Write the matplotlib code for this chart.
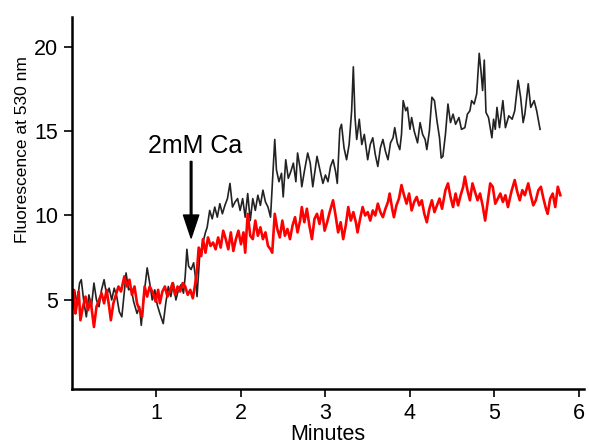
import matplotlib
matplotlib.use("Agg")
import matplotlib.pyplot as plt

# black trace (minutes, fluorescence)
black_t = [0.00, 0.03, 0.06, 0.09, 0.11, 0.14, 0.17, 0.20, 0.23, 0.26, 0.29, 0.32, 0.35, 0.38,
           0.41, 0.44, 0.47, 0.50, 0.53, 0.56, 0.59, 0.62, 0.64, 0.67, 0.70, 0.73, 0.77, 0.80,
           0.82, 0.85, 0.89, 0.92, 0.95, 0.98, 1.01, 1.04, 1.08, 1.11, 1.14, 1.17, 1.20, 1.23,
           1.26, 1.29, 1.32, 1.34, 1.36, 1.38, 1.41, 1.44, 1.46, 1.48, 1.51, 1.55, 1.58, 1.60,
           1.63, 1.66, 1.69, 1.72, 1.75, 1.78, 1.81, 1.84, 1.87, 1.90, 1.93, 1.96, 1.99, 2.02,
           2.05, 2.08, 2.11, 2.14, 2.17, 2.20, 2.23, 2.26, 2.29, 2.32, 2.35, 2.37, 2.40, 2.42,
           2.45, 2.48, 2.50, 2.53, 2.56, 2.59, 2.62, 2.65, 2.67, 2.70, 2.72, 2.75, 2.79, 2.82,
           2.85, 2.88, 2.90, 2.93, 2.97, 3.00, 3.03, 3.06, 3.09, 3.12, 3.14, 3.17, 3.19, 3.22,
           3.25, 3.28, 3.31, 3.33, 3.35, 3.37, 3.40, 3.43, 3.46, 3.50, 3.53, 3.56, 3.59, 3.62,
           3.65, 3.68, 3.71, 3.74, 3.77, 3.80, 3.82, 3.85, 3.88, 3.90, 3.92, 3.95, 3.97, 4.00,
           4.02, 4.05, 4.09, 4.12, 4.15, 4.18, 4.20, 4.23, 4.26, 4.29, 4.32, 4.35, 4.37, 4.39,
           4.42, 4.45, 4.48, 4.51, 4.54, 4.58, 4.61, 4.65, 4.68, 4.71, 4.73, 4.76, 4.79, 4.82,
           4.84, 4.86, 4.88, 4.90, 4.93, 4.97, 4.99, 5.01, 5.03, 5.06, 5.10, 5.13, 5.17, 5.21,
           5.24, 5.28, 5.31, 5.34, 5.36, 5.40, 5.43, 5.47, 5.50, 5.54]
black_v = [4.3, 5.6, 4.8, 6.0, 6.2, 4.9, 4.0, 5.3, 4.6, 6.0, 5.0, 4.6, 5.6, 6.2,
           5.3, 5.7, 5.0, 5.7, 5.2, 4.3, 4.0, 5.5, 6.6, 5.6, 5.7, 4.9, 4.2, 4.6,
           3.5, 5.2, 6.9, 6.0, 5.0, 5.6, 4.7, 4.2, 3.6, 4.8, 5.8, 5.2, 6.0, 5.0,
           5.6, 5.9, 5.4, 6.4, 8.0, 7.0, 6.8, 7.2, 6.4, 5.2, 7.5, 8.4, 9.0, 9.3,
           10.3, 9.8, 10.5, 9.9, 10.7, 10.1, 10.6, 11.0, 11.9, 10.5, 10.8, 11.0, 10.3, 11.0,
           9.9, 11.3, 9.7, 11.0, 10.3, 11.2, 10.6, 11.5, 10.8, 10.5, 9.9, 11.7, 14.5, 12.7,
           12.0, 12.5, 11.1, 13.3, 12.2, 12.6, 13.1, 12.0, 13.7, 12.8, 11.7, 12.6, 13.7, 13.1,
           11.7, 12.8, 13.5, 12.8, 11.9, 12.4, 12.0, 12.9, 13.3, 12.6, 11.9, 15.1, 15.4, 14.0,
           13.3, 14.2, 16.2, 18.8, 15.8, 14.5, 15.7, 14.2, 14.8, 13.3, 14.2, 14.6, 13.6, 12.9,
           14.0, 14.5, 13.8, 13.3, 14.3, 14.6, 15.2, 14.3, 13.9, 14.8, 16.8, 16.2, 16.4, 15.1,
           15.8, 15.0, 14.3, 15.5, 14.8, 14.5, 13.9, 15.0, 17.0, 16.8, 15.6, 14.6, 13.4, 13.5,
           14.8, 16.6, 15.5, 16.0, 15.4, 15.8, 15.1, 15.2, 16.0, 16.2, 16.8, 16.6, 17.2, 19.6,
           18.6, 17.4, 19.2, 16.1, 15.8, 14.6, 15.7, 15.1, 16.4, 15.2, 16.8, 15.2, 15.9, 15.7,
           16.2, 18.0, 17.0, 15.5, 16.0, 17.8, 16.4, 16.8, 16.2, 15.1]

# red trace (minutes, fluorescence)
red_t = [0.00, 0.02, 0.04, 0.06, 0.08, 0.10, 0.13, 0.16, 0.19, 0.22, 0.26, 0.29, 0.32, 0.35,
         0.38, 0.41, 0.44, 0.46, 0.49, 0.52, 0.55, 0.58, 0.62, 0.65, 0.68, 0.71, 0.74, 0.77,
         0.80, 0.83, 0.86, 0.89, 0.92, 0.96, 0.99, 1.02, 1.04, 1.07, 1.10, 1.13, 1.16, 1.19,
         1.22, 1.25, 1.28, 1.31, 1.34, 1.37, 1.40, 1.43, 1.46, 1.48, 1.50, 1.53, 1.55, 1.58,
         1.61, 1.64, 1.67, 1.70, 1.73, 1.76, 1.79, 1.82, 1.85, 1.88, 1.91, 1.94, 1.97, 2.00,
         2.03, 2.05, 2.08, 2.11, 2.14, 2.17, 2.20, 2.23, 2.26, 2.29, 2.32, 2.35, 2.37, 2.40,
         2.43, 2.46, 2.49, 2.52, 2.55, 2.58, 2.61, 2.64, 2.67, 2.70, 2.72, 2.75, 2.78, 2.81,
         2.84, 2.87, 2.90, 2.93, 2.96, 2.99, 3.02, 3.05, 3.09, 3.12, 3.15, 3.18, 3.21, 3.24,
         3.27, 3.30, 3.33, 3.36, 3.38, 3.41, 3.44, 3.47, 3.50, 3.53, 3.56, 3.59, 3.62, 3.65,
         3.68, 3.71, 3.74, 3.76, 3.79, 3.81, 3.84, 3.87, 3.90, 3.93, 3.96, 3.99, 4.02, 4.05,
         4.08, 4.11, 4.14, 4.17, 4.20, 4.23, 4.26, 4.29, 4.32, 4.35, 4.38, 4.42, 4.45, 4.48,
         4.51, 4.54, 4.57, 4.60, 4.63, 4.65, 4.68, 4.71, 4.74, 4.77, 4.80, 4.83, 4.86, 4.89,
         4.92, 4.95, 4.98, 5.01, 5.04, 5.07, 5.10, 5.13, 5.16, 5.20, 5.24, 5.27, 5.30, 5.33,
         5.36, 5.40, 5.43, 5.46, 5.49, 5.52, 5.55, 5.58, 5.61, 5.63, 5.66, 5.69, 5.72, 5.75,
         5.78]
red_v = [4.5, 5.6, 4.2, 4.8, 5.5, 3.8, 4.6, 5.2, 4.4, 5.0, 3.4, 4.6, 5.0, 5.4,
         4.8, 5.6, 4.6, 3.8, 4.8, 5.3, 5.8, 5.5, 6.4, 5.8, 6.2, 5.3, 5.8, 4.8,
         4.4, 4.0, 5.8, 5.2, 5.8, 5.4, 4.9, 5.6, 4.8, 5.5, 5.8, 5.2, 5.5, 6.0,
         5.3, 5.8, 5.5, 6.0, 5.8, 5.3, 5.6, 5.1, 6.0, 6.8, 8.1, 7.6, 8.6, 7.8,
         8.7, 8.2, 8.4, 8.0, 8.7, 8.1, 9.1, 8.6, 8.0, 9.0, 7.9, 8.6, 9.1, 8.3,
         9.0, 7.8, 10.1, 8.8, 8.6, 9.7, 8.8, 9.3, 8.6, 9.0, 8.2, 8.0, 7.8, 10.1,
         9.2, 8.7, 9.7, 8.8, 9.2, 8.6, 9.4, 9.9, 9.0, 9.7, 10.5, 9.6, 10.4, 9.4,
         8.6, 9.8, 10.1, 9.5, 10.3, 9.1, 9.6, 10.2, 10.9, 10.0, 9.0, 9.6, 8.6, 9.4,
         10.5, 9.7, 10.2, 9.6, 9.0, 9.8, 10.5, 10.0, 10.2, 9.7, 10.3, 10.0, 10.7, 10.2,
         9.9, 10.4, 10.8, 11.3, 10.4, 9.9, 10.6, 11.0, 11.8, 11.2, 10.7, 11.3, 10.3, 10.8,
         11.1, 10.6, 10.9, 10.1, 9.6, 10.4, 10.9, 10.2, 10.6, 11.0, 10.4, 11.5, 11.9, 11.1,
         10.5, 11.3, 10.6, 11.2, 11.7, 12.3, 11.5, 10.9, 11.9, 11.4, 10.9, 11.3, 10.6, 9.7,
         10.8, 11.9, 11.7, 10.7, 11.0, 11.3, 10.8, 11.2, 10.5, 11.4, 12.1, 11.4, 10.9, 11.5,
         11.2, 11.9, 11.2, 10.6, 10.9, 11.5, 11.7, 11.0, 10.4, 10.1, 11.0, 11.3, 10.5, 11.7,
         11.2]

x_ticks = [1, 2, 3, 4, 5, 6]
y_ticks = [5, 10, 15, 20]

plt.rcParams["font.family"] = ["Liberation Sans", "DejaVu Sans"]

fig = plt.figure(figsize=(5.89, 4.44), dpi=100)
ax = fig.add_axes([0.1222, 0.1239, 0.8693, 0.8378])

ax.plot(black_t, black_v, color="#222222", lw=1.2)
ax.plot(red_t, red_v, color="#ff0000", lw=1.9)

# calcium addition arrow
ax.annotate("", xy=(1.41, 8.67), xytext=(1.41, 13.2),
            arrowprops=dict(facecolor="black", edgecolor="black", width=1.2,
                            headwidth=11, headlength=16.5, shrink=0))
ax.text(1.455, 13.7, "2mM Ca", fontsize=18, ha="center", va="baseline")

ax.set_xlim(0, 6.06)
ax.set_ylim(-0.27, 21.75)
ax.set_xticks(x_ticks)
ax.set_yticks(y_ticks)
ax.tick_params(labelsize=15.5, length=6, width=1.2, direction="out", pad=4)
ax.spines["top"].set_visible(False)
ax.spines["right"].set_visible(False)
ax.spines["left"].set_linewidth(1.8)
ax.spines["bottom"].set_linewidth(1.8)

ax.set_xlabel("Minutes", fontsize=15.5, labelpad=0)
ax.set_ylabel("Fluorescence at 530 nm", fontsize=12.5)
ax.yaxis.set_label_coords(-0.082, 0.6425)

fig.savefig("out.png", dpi=100)
